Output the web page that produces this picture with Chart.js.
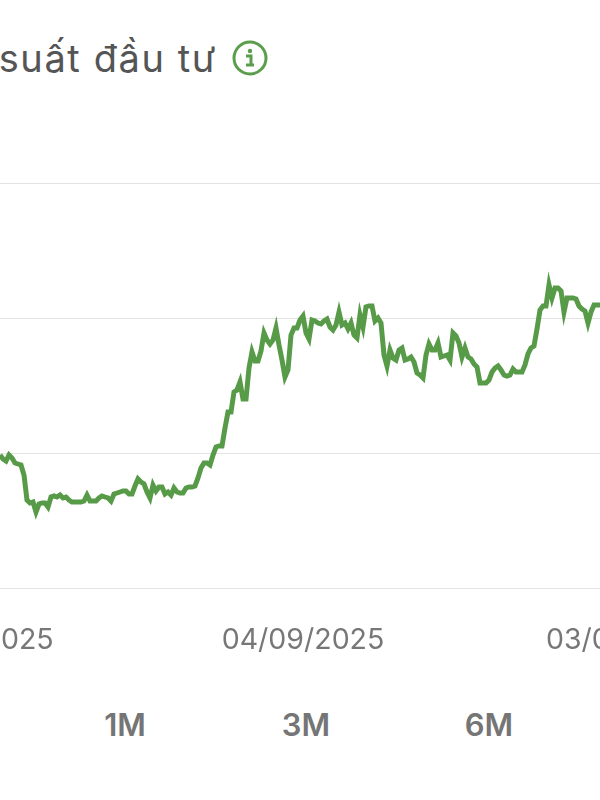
<!DOCTYPE html>
<html>
<head>
<meta charset="utf-8">
<script src="https://cdn.jsdelivr.net/npm/chart.js@4"></script>
<style>
    html, body { margin: 0; padding: 0; background: #fff; }
    body { position: relative; width: 600px; height: 800px; overflow: hidden; font-family: Inter, sans-serif; }
    #title { position: absolute; right: 383px; top: 36px; font-size: 38px; line-height: 44px; letter-spacing: 1.6px; color: #555; white-space: nowrap; }
    #info { position: absolute; left: 232px; top: 40px; }
    #chart { position: absolute; left: -120px; top: 0; }
    .range { position: absolute; top: 708px; width: 80px; text-align: center; font-size: 31px; line-height: 34px; font-weight: 600; color: #757575; }
</style>
</head>
<body>
<div id="title">Tỷ suất đầu tư</div>
<svg id="info" width="36" height="36" viewBox="0 0 36 36">
    <circle cx="18" cy="18" r="16" fill="none" stroke="#5a9e4b" stroke-width="3"/>
    <circle cx="18" cy="11" r="2.2" fill="#5a9e4b"/>
    <path d="M14 16h5v9h3M14 25h8" fill="none" stroke="#5a9e4b" stroke-width="3"/>
</svg>
<canvas id="chart" width="840" height="680"></canvas>
<div class="range" style="left:85px">1M</div>
<div class="range" style="left:266px">3M</div>
<div class="range" style="left:449px">6M</div>

<script>
// returns, one reading per session
const returns = [
    13.3, 12.9, 12.7, 13.3, 13.0, 12.5, 12.4, 12.3, 11.3, 8.8,
    8.5, 8.6, 7.6, 8.4, 8.5, 8.5, 8.1, 9.1, 9.2, 9.1,
    9.3, 9.0, 9.1, 8.8, 8.6, 8.6, 8.6, 8.6, 8.7, 9.3,
    8.7, 8.7, 8.7, 9.0, 9.2, 9.1, 9.0, 8.7, 9.4, 9.5,
    9.6, 9.7, 9.7, 9.4, 9.4, 10.2, 10.9, 10.6, 10.4, 9.6,
    9.0, 10.3, 9.7, 10.1, 10.1, 9.4, 9.6, 9.3, 10.0, 9.6,
    9.5, 9.5, 10.0, 10.1, 10.1, 10.2, 11.0, 12.0, 12.5, 12.5,
    12.3, 13.3, 14.1, 14.2, 14.2, 16.0, 17.6, 17.6, 19.6, 19.8,
    20.6, 18.9, 18.9, 22.0, 23.6, 22.7, 22.7, 23.7, 25.5, 24.8,
    24.4, 24.8, 26.0, 24.3, 22.8, 21.1, 21.8, 25.3, 26.0, 26.0,
    26.8, 27.2, 25.5, 24.9, 26.8, 26.7, 26.5, 26.4, 26.7, 26.9,
    26.1, 25.8, 26.3, 27.6, 26.3, 26.5, 25.9, 26.5, 25.3, 25.0,
    27.3, 26.1, 28.1, 28.2, 28.2, 26.7, 27.0, 26.5, 23.3, 22.2,
    23.8, 23.0, 22.8, 23.8, 24.0, 22.8, 22.9, 23.1, 22.6, 21.5,
    21.3, 21.0, 23.3, 24.4, 23.8, 23.8, 24.5, 23.1, 23.2, 23.3,
    22.8, 25.5, 25.2, 24.5, 23.1, 24.0, 23.1, 22.9, 22.4, 22.1,
    20.5, 20.5, 20.5, 20.8, 21.6, 22.0, 22.2, 21.8, 21.3, 21.2,
    21.3, 21.9, 21.6, 21.6, 21.6, 22.3, 23.4, 24.0, 24.2, 25.9,
    27.8, 28.2, 28.2, 30.3, 29.0, 30.0, 30.0, 29.7, 27.6, 29.0,
    29.0, 29.0, 28.9, 28.2, 27.9, 27.7, 26.5, 27.6, 28.3, 28.3,
    28.3
];
const tickLabels = ['05/05/2025', '04/09/2025', '03/01/2026'];
const tickSessions = [-9, 101, 208];
const yTicks = [0, 13.5, 27, 40.5];

// the axis runs past both edges of the window so the outer dates get cut off
const sessionsBefore = 40;
const sessionsAfter = 40;
const sessions = [];
for (let i = -sessionsBefore; i < returns.length + sessionsAfter; i++) {
    sessions.push(i);
}
const paddedReturns = Array(sessionsBefore).fill(null).concat(returns, Array(sessionsAfter).fill(null));

new Chart(document.getElementById('chart'), {
    type: 'line',
    data: {
        labels: sessions,
        datasets: [
            {
                data: paddedReturns,
                borderColor: '#579b48',
                borderWidth: 5,
                pointRadius: 0,
                tension: 0,
                borderJoinStyle: 'miter',
                spanGaps: false,
            }],
    },
    options: {
        responsive: false,
        animation: false,
        layout: { padding: { top: 183, left: 0, right: 0, bottom: 0 } },
        plugins: {
            legend: { display: false },
            tooltip: { enabled: false },
        },
        scales: {
            x: {
                grid: { display: false },
                border: { display: false },
                afterFit: function (scale) {
                    scale.height = 92;
                    scale.paddingLeft = 0;
                    scale.paddingRight = 0;
                },
                ticks: {
                    autoSkip: false,
                    maxRotation: 0,
                    padding: 27,
                    color: '#777',
                    font: { family: 'Inter', size: 28.5 },
                    callback: function (value, index) {
                        let pos = tickSessions.indexOf(sessions[index]);
                        return pos === -1 ? '' : tickLabels[pos];
                    },
                },
            },
            y: {
                min: 0,
                max: 40.5,
                afterBuildTicks: function (scale) {
                    scale.ticks = yTicks.map(function (v) {
                        return { value: v };
                    });
                },
                afterFit: function (scale) {
                    scale.width = 0;
                },
                grid: { color: '#e3e3e3', lineWidth: 1, drawTicks: false },
                border: { display: false },
                ticks: { display: false },
            },
        },
    },
});
</script>
</body>
</html>
